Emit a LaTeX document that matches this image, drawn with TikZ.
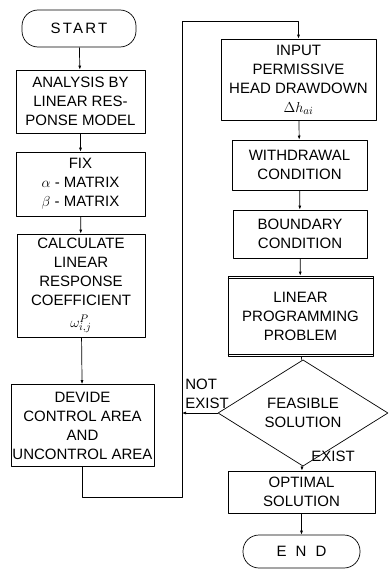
\documentclass[tikz,border=0pt]{standalone}
\usepackage{fontspec}
\setmainfont{Liberation Sans}
\usetikzlibrary{shapes.geometric,arrows.meta}

\begin{document}
\begin{tikzpicture}[x=1pt, y=-1pt, line width=0.7pt, line join=round,
    font=\fontsize{15}{19}\selectfont,
    box/.style={draw, rectangle, align=center, inner sep=0pt},
    term/.style={draw, rectangle, rounded corners=16pt, align=center, inner sep=0pt},
    test/.style={draw, diamond, align=center, inner sep=0pt},
    flow/.style={-{Latex[length=4pt,width=3pt]}}]

  %% ════ 左列（开始 → 分区）════
  \node[term, minimum width=114, minimum height=37] (start) at (79,28.5)
    {\addfontfeature{LetterSpace=15}START};
  \node[box, minimum width=129, minimum height=63] (ana) at (80.5,101.5)
    {ANALYSIS BY\\LINEAR RES-\\PONSE MODEL};
  \node[box, minimum width=129, minimum height=64] (fix) at (80.5,184)
    {FIX\\$\alpha$ - MATRIX\\$\beta$ - MATRIX};
  \node[box, minimum width=128, minimum height=103] (calc) at (81,285.5)
    {CALCULATE\\LINEAR\\RESPONSE\\COEFFICIENT\\[3pt]$\omega^{P}_{i,j}$};
  \node[box, minimum width=143, minimum height=82] (dev) at (82.5,425.5)
    {DEVIDE\\CONTROL AREA\\AND\\UNCONTROL AREA};

  %% ════ 右列（输入 → 结束）════
  \node[box, minimum width=155, minimum height=81] (input) at (298.5,79.5)
    {INPUT\\PERMISSIVE\\HEAD DRAWDOWN\\$\Delta h_{ai}$};
  \node[box, minimum width=135, minimum height=50] (withd) at (299.5,165)
    {WITHDRAWAL\\CONDITION};
  \node[box, minimum width=134, minimum height=48] (bound) at (300,234)
    {BOUNDARY\\CONDITION};
  \node[box, minimum width=145, minimum height=80] (lp) at (300.5,316)
    {LINEAR\\PROGRAMMING\\PROBLEM};
  \node[test, minimum width=170, minimum height=74] (feas) at (303,413)
    {FEASIBLE\\SOLUTION};
  \node[box, minimum width=147, minimum height=42] (opt) at (301.5,492)
    {OPTIMAL\\SOLUTION};
  \node[term, minimum width=117, minimum height=33] (end) at (301.5,551.5)
    {\addfontfeature{LetterSpace=60}END};

  %% LP 框上下的双线
  \draw ([yshift=-2.5pt]lp.north west) -- ([yshift=-2.5pt]lp.north east);
  \draw ([yshift=2.5pt]lp.south west) -- ([yshift=2.5pt]lp.south east);

  %% ════ 连线 ════
  \draw[flow] (start) -- (ana);
  \draw[flow] (ana) -- (fix);
  \draw[flow] (fix) -- (calc);
  \draw[flow] (calc) -- (dev);
  \draw[flow] (input) -- (withd);
  \draw[flow] (withd) -- (bound);
  \draw[flow] (bound) -- (lp);
  \draw (lp) -- (feas);
  \draw[flow] (feas) -- (opt);
  \draw[flow] (opt) -- (end);

  %% 回路：分区 → 输入
  \coordinate (lowbend) at (182,497);
  \coordinate (topbend) at (182,21);
  \draw[flow] (dev.south) |- (lowbend) -- (topbend) -| (input.north);
  \draw[flow] (feas.west) -- (feas.west -| lowbend);

  %% ════ 标签 ════
  \node[anchor=south west, align=left, inner sep=0pt] (nolbl) at (185,409) {NOT\\EXIST};
  \node[anchor=west, inner sep=0pt] (exlbl) at (311,456) {EXIST};

  % 钉死画布
  \pgfresetboundingbox
  \path[use as bounding box] (0,0) rectangle (390,570);
\end{tikzpicture}
\end{document}
